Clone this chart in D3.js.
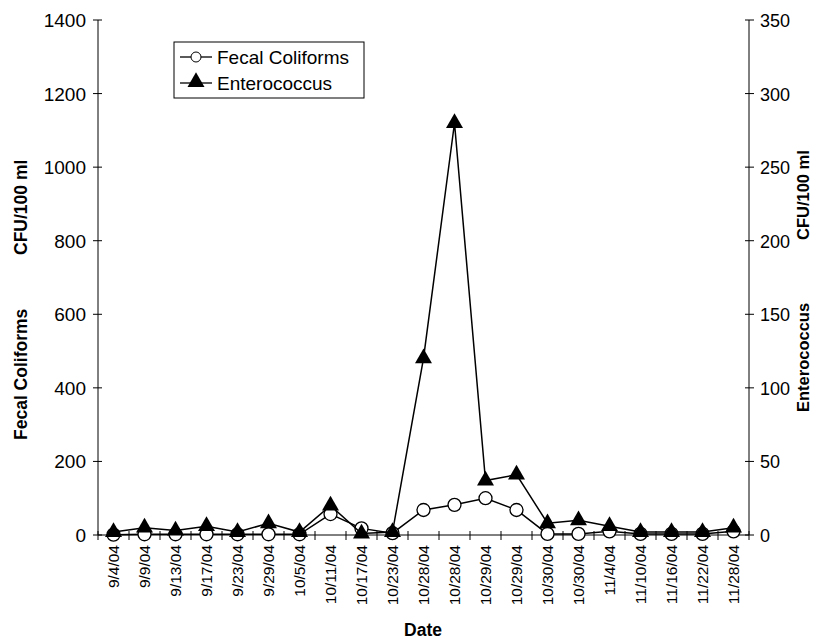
<!DOCTYPE html>
<html>
<head>
<meta charset="utf-8">
<script src="https://cdn.jsdelivr.net/npm/d3@7/dist/d3.min.js"></script>
<style>
  body { margin: 0; background: #fff; }
  svg text { font-family: "Liberation Sans", Arial, sans-serif; fill: #000; }
</style>
</head>
<body>
<svg id="chart" width="814" height="644"></svg>
<script>
// data
const dates = ['9/4/04', '9/9/04', '9/13/04', '9/17/04', '9/23/04', '9/29/04', '10/5/04',
  '10/11/04', '10/17/04', '10/23/04', '10/28/04', '10/28/04', '10/29/04', '10/29/04',
  '10/30/04', '10/30/04', '11/4/04', '11/10/04', '11/16/04', '11/22/04', '11/28/04'];
const fecal = [1, 2, 2, 2, 2, 2, 2, 57, 18, 5, 68, 82, 100, 68, 3, 3, 10, 3, 3, 3, 10];
const entero = [2, 5, 3, 6, 2, 8, 2, 20, 1, 2, 120, 280, 37, 41, 8, 10, 6, 2, 2, 2, 5];
const leftTicks = [0, 200, 400, 600, 800, 1000, 1200, 1400];
const rightTicks = [0, 50, 100, 150, 200, 250, 300, 350];

const svg = d3.select('#chart');
const m = { left: 98, right: 749, top: 20, bottom: 535 };

const idx = d3.range(dates.length);
const x = d3.scaleBand().domain(idx).range([m.left, m.right]);
const xc = i => x(i) + x.bandwidth() / 2;
const yL = d3.scaleLinear().domain([0, 1400]).range([m.bottom, m.top]);
const yR = d3.scaleLinear().domain([0, 350]).range([m.bottom, m.top]);

// axes lines
const axes = svg.append('g').attr('stroke', '#000').attr('stroke-width', 1);
axes.append('line').attr('x1', m.left).attr('x2', m.left).attr('y1', m.top).attr('y2', m.bottom);
axes.append('line').attr('x1', m.right).attr('x2', m.right).attr('y1', m.top).attr('y2', m.bottom);
axes.append('line').attr('x1', m.left).attr('x2', m.right).attr('y1', m.bottom).attr('y2', m.bottom);

// left ticks
axes.selectAll('.lt').data(leftTicks).join('line')
  .attr('x1', m.left - 5).attr('x2', m.left + 4)
  .attr('y1', d => yL(d)).attr('y2', d => yL(d));
svg.append('g').selectAll('text').data(leftTicks).join('text')
  .attr('x', m.left - 12).attr('y', d => yL(d) + 7)
  .attr('text-anchor', 'end').attr('font-size', 19).text(d => d);

// right ticks
axes.selectAll('.rt').data(rightTicks).join('line')
  .attr('x1', m.right - 4).attr('x2', m.right + 5)
  .attr('y1', d => yR(d)).attr('y2', d => yR(d));
svg.append('g').selectAll('text').data(rightTicks).join('text')
  .attr('x', m.right + 11).attr('y', d => yR(d) + 7)
  .attr('text-anchor', 'start').attr('font-size', 18).text(d => d);

// x ticks at category boundaries
const xb = d3.range(dates.length + 1).map(k => m.left + k * x.step());
axes.selectAll('.xt').data(xb).join('line')
  .attr('x1', d => d).attr('x2', d => d)
  .attr('y1', m.bottom - 4).attr('y2', m.bottom + 5);

svg.append('g').selectAll('text').data(idx).join('text')
  .attr('transform', i => `translate(${xc(i) + 5.5},${m.bottom + 10}) rotate(-90)`)
  .attr('text-anchor', 'end').attr('font-size', 15.5).text(i => dates[i]);

// axis titles
svg.append('text').attr('x', 423).attr('y', 636).attr('text-anchor', 'middle')
  .attr('font-size', 17.5).attr('font-weight', 'bold').text('Date');

const titleL = svg.append('g').attr('transform', 'translate(27,0)')
  .attr('font-size', 17.5).attr('font-weight', 'bold');
titleL.append('text').attr('transform', 'translate(0,440) rotate(-90)')
  .attr('text-anchor', 'start').text('Fecal Coliforms');
titleL.append('text').attr('transform', 'translate(0,255) rotate(-90)')
  .attr('text-anchor', 'start').text('CFU/100 ml');

const titleR = svg.append('g').attr('transform', 'translate(809,0)')
  .attr('font-size', 16.5).attr('font-weight', 'bold');
titleR.append('text').attr('transform', 'translate(0,412) rotate(-90)')
  .attr('text-anchor', 'start').text('Enterococcus');
titleR.append('text').attr('transform', 'translate(0,240) rotate(-90)')
  .attr('text-anchor', 'start').text('CFU/100 ml');

const tri = d3.symbol().type(d3.symbolTriangle).size(125);

// Fecal Coliforms line + circles
svg.append('path').datum(fecal)
  .attr('d', d3.line().x((d, i) => xc(i)).y(d => yL(d)))
  .attr('fill', 'none').attr('stroke', '#000').attr('stroke-width', 1.5);
svg.append('g').selectAll('circle').data(fecal).join('circle')
  .attr('cx', (d, i) => xc(i)).attr('cy', d => yL(d)).attr('r', 6.5)
  .attr('fill', '#fff').attr('stroke', '#000').attr('stroke-width', 1.3);

// Enterococcus line + triangles
svg.append('path').datum(entero)
  .attr('d', d3.line().x((d, i) => xc(i)).y(d => yR(d)))
  .attr('fill', 'none').attr('stroke', '#000').attr('stroke-width', 1.5);
svg.append('g').selectAll('path').data(entero).join('path')
  .attr('d', tri)
  .attr('transform', (d, i) => `translate(${xc(i)},${yR(d)})`)
  .attr('fill', '#000');

// legend
const lg = svg.append('g').attr('transform', 'translate(174,42)');
lg.append('rect').attr('width', 190).attr('height', 56)
  .attr('fill', '#fff').attr('stroke', '#000').attr('stroke-width', 1);
lg.append('line').attr('x1', 6).attr('x2', 38).attr('y1', 15).attr('y2', 15).attr('stroke', '#000').attr('stroke-width', 1.3);
lg.append('circle').attr('cx', 22).attr('cy', 15).attr('r', 5).attr('fill', '#fff').attr('stroke', '#000');
lg.append('text').attr('x', 43).attr('y', 22).attr('font-size', 19).text('Fecal Coliforms');
lg.append('line').attr('x1', 6).attr('x2', 38).attr('y1', 41).attr('y2', 41).attr('stroke', '#000').attr('stroke-width', 1.3);
lg.append('path').attr('d', tri).attr('transform', 'translate(22,40)').attr('fill', '#000');
lg.append('text').attr('x', 43).attr('y', 48).attr('font-size', 19).text('Enterococcus');
</script>
</body>
</html>
